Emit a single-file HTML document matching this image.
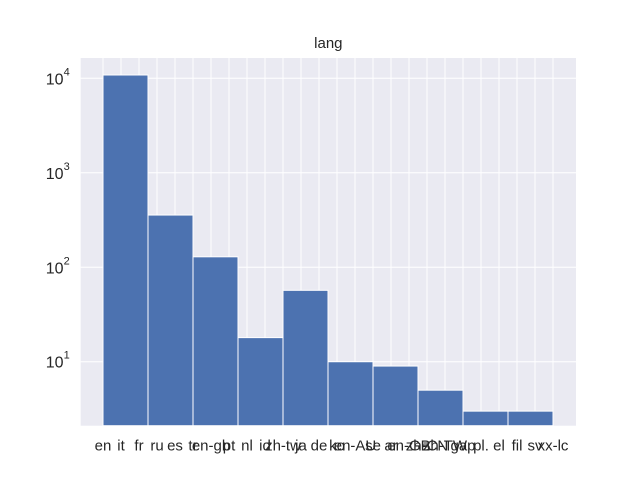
<!DOCTYPE html>
<html><head><meta charset="utf-8"><style>
body{margin:0;background:#fff;font-family:"Liberation Sans",sans-serif}
</style></head><body>
<svg id="chart" width="640" height="480" xmlns="http://www.w3.org/2000/svg"></svg>
<script>
const categories=["en","it","fr","ru","es","tr","en-gb","pt","nl","id","zh-tw","ja","de","ko","en-AU","se","ar","en-GB","zh-CN","zh-TW","gap","pl.","el","fil","sv","xx-lc"];
const binCounts=[10840,357,129,18,57,10,9,5,3,3];
const yTickExps=[1,2,3,4];
const NS="http://www.w3.org/2000/svg";
const svg=document.getElementById('chart');
const L=80.7,R=576,T=58,B=425.7;
const logMin=0.323,logMax=4.215;
const y=v=>B-(Math.log10(v)-logMin)/(logMax-logMin)*(B-T);
const x0=103,x1=553;
const x=i=>x0+(x1-x0)*i/(categories.length-1);
function el(tag,attrs,parent){const e=document.createElementNS(NS,tag);for(const k in attrs)e.setAttribute(k,attrs[k]);(parent||svg).appendChild(e);return e;}
const bg=el('rect',{x:L,y:T,width:R-L,height:B-T,fill:'#EAEAF2'});


categories.forEach((c,i)=>{
  const g=el('line',{x1:x(i),x2:x(i),y1:T,y2:B,stroke:'#fff','stroke-width':1});
  
  
});
yTickExps.forEach(e=>{
  const yy=y(Math.pow(10,e));
  const g=el('line',{x1:L,x2:R,y1:yy,y2:yy,stroke:'#fff','stroke-width':1});
  
  
  const t=el('text',{x:L-11,y:yy+6,'text-anchor':'end','font-size':16,fill:'#262626'});
  
  
  t.textContent='10';
  const s=el('tspan',{dy:-9,'font-size':11},t);s.textContent=e;
});
const nb=binCounts.length,bw=(x1-x0)/nb;
binCounts.forEach((v,i)=>{
  const r=el('rect',{x:x0+i*bw,y:y(v),width:bw,height:B-y(v),fill:'#4C72B0',stroke:'#fff','stroke-width':1});
  
  
});
categories.forEach((c,i)=>{
  const t=el('text',{x:x(i),y:B+25,'text-anchor':'middle','font-size':15,fill:'#262626'});
  
  
  t.textContent=c;
});
const title=el('text',{x:(L+R)/2,y:48,'text-anchor':'middle','font-size':15,fill:'#262626'});


title.textContent='lang';
</script>
</body></html>
